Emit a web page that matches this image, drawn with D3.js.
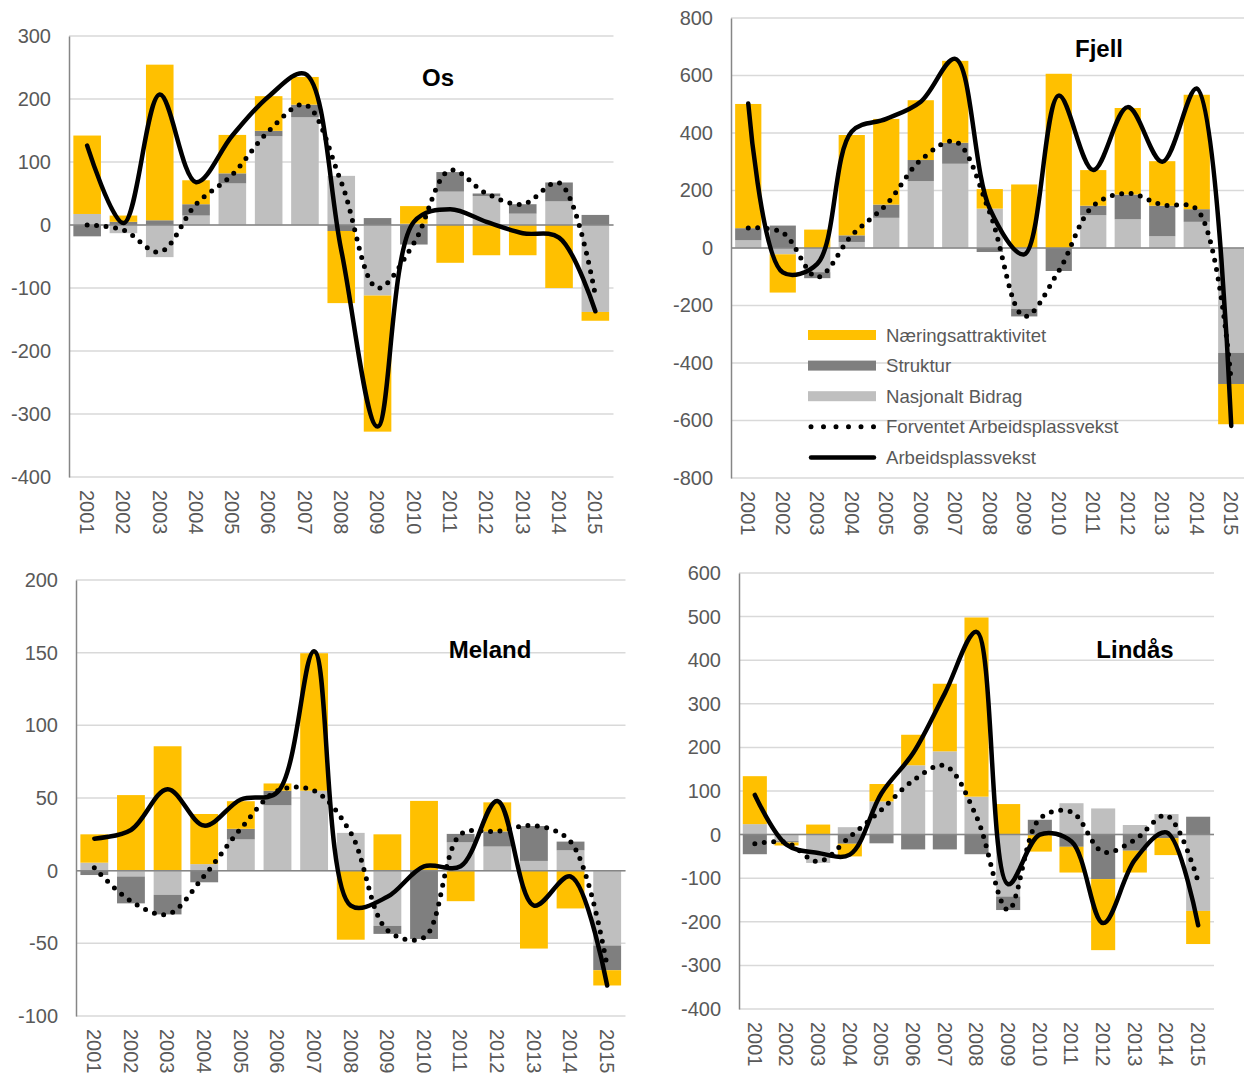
<!DOCTYPE html>
<html lang="no">
<head>
<meta charset="UTF-8">
<title>Arbeidsplassvekst</title>
<script src="https://cdn.jsdelivr.net/npm/d3@7"></script>
<style>
  body { margin: 0; background: #fff; }
  svg text { font-family: "Liberation Sans", Arial, sans-serif; }
</style>
</head>
<body>
<script>
const years = ["2001", "2002", "2003", "2004", "2005", "2006", "2007", "2008",
               "2009", "2010", "2011", "2012", "2013", "2014", "2015"];

// Os
const osNasjonalt = [17.5, -13, -51, 15, 66, 141, 171, 78, -112, 2, 53, 46, 18, 37.5, -138];
const osStruktur  = [-18, 5, 7.5, 18, 16, 8.5, 20, -9.5, 11, -31, 31, 4, 15, 30, 16];
const osNaering   = [124.5, 10, 247, 38, 61, 55, 44, -114.5, -216, 28, -60, -48, -48, -100, -14];
const osForventet = [0, -8, -43, 33, 80, 149, 191, 68, -100, -29, 87, 50, 33, 67, -112];
const osVekst     = [126, 3, 207, 68, 142, 204, 240, -40, -320, 5, 25, 5, -13, -20, -137];

// Fjell
const fjellNasjonalt = [27, -22, -84, 21, 105, 233, 293, 137, -212, 0, 114, 100, 41, 91, -365];
const fjellStruktur  = [42, 78, -21, 23, 46, 73, 73, -14, -26, -80, 33, 86, 106, 44, -108];
const fjellNaering   = [432, -133, 64, 349, 298, 208, 285, 68, 221, 606, 124, 301, 155, 398, -140];
const fjellForventet = [70, 53, -101, 44, 151, 306, 370, 123, -238, -80, 147, 190, 150, 135, -467];
const fjellVekst     = [503, -85, -55, 405, 449, 509, 658, 137, -22, 530, 271, 490, 300, 555, -619];

// Meland
const melandNasjonalt = [5.5, -4, -16.6, 4.5, 21.5, 45, 55, 26, -38, 0, 19.5, 16.6, 6.7, 14, -51.5];
const melandStruktur  = [-3, -18.5, -13.5, -8, 7.3, 10, 0, 0, -5.5, -47, 5.8, 10.4, 24, 6, -17];
const melandNaering   = [19.5, 52, 85.6, 34.5, 19, 5, 94.6, -47.5, 25, 48, -21, 20, -53.6, -26, -10.5];
const melandForventet = [2, -21, -30, -3.5, 29, 55, 55, 26, -41, -46, 25, 27, 31, 20, -66];
const melandVekst     = [22, 28, 56, 31, 49, 54, 151, -24, -18, 3, 3, 48, -24, -4, -79];

// Lindås
const lindasNasjonalt = [24, -15, -65, 17, 76, 159, 191, 87, -142, 0, 72, 60, 22, 47, -175];
const lindasStruktur  = [-45, -3, 0, -21, -20, -34, -34, -45, -31, 34, -28, -102, -37, -8, 41];
const lindasNaering   = [110, -7, 23, -29, 40, 70, 155, 411, 70, -39, -59, -163, -50, -39, -76];
const lindasForventet = [-21, -18, -62, -5, 57, 124, 158, 41, -173, 37, 52, -40, -12, 44, -108];
const lindasVekst     = [91, -23, -42, -46, 95, 187, 324, 465, -114, 0, -16, -203, -58, 5, -208];

const legendLabels = ["Næringsattraktivitet", "Struktur", "Nasjonalt Bidrag",
                      "Forventet Arbeidsplassvekst", "Arbeidsplassvekst"];

// stacking order as in the source chart: Nasjonalt at the bottom, Næring on top
const keys = ["nas", "str", "nae"];
const colors = { nae: "#FFC000", str: "#7F7F7F", nas: "#BFBFBF" };
const textGrey = "#595959";

const panels = [
  { title: "Os", nas: osNasjonalt, str: osStruktur, nae: osNaering, forv: osForventet, vekst: osVekst,
    domain: [-400, 300], step: 100, x0: 69, x1: 613.5, top: 36, bottom: 477, tx: 438, ty: 86 },
  { title: "Fjell", nas: fjellNasjonalt, str: fjellStruktur, nae: fjellNaering, forv: fjellForventet, vekst: fjellVekst,
    domain: [-800, 800], step: 200, x0: 731, x1: 1248.5, top: 18, bottom: 478, tx: 1099, ty: 57 },
  { title: "Meland", nas: melandNasjonalt, str: melandStruktur, nae: melandNaering, forv: melandForventet, vekst: melandVekst,
    domain: [-100, 200], step: 50, x0: 76, x1: 625.5, top: 580, bottom: 1016, tx: 490, ty: 658 },
  { title: "Lindås", nas: lindasNasjonalt, str: lindasStruktur, nae: lindasNaering, forv: lindasForventet, vekst: lindasVekst,
    domain: [-400, 600], step: 100, x0: 739, x1: 1214, top: 573, bottom: 1009, tx: 1135, ty: 658 }
];

const svg = d3.select("body").append("svg")
    .attr("width", 1244)
    .attr("height", 1076);

panels.forEach(function (p) {
  const g = svg.append("g");

  const x = d3.scaleBand().domain(years).range([p.x0, p.x1])
      .paddingInner(0.24).paddingOuter(0.12);
  const y = d3.scaleLinear().domain(p.domain).range([p.bottom, p.top]);
  const ticks = d3.range(p.domain[0], p.domain[1] + p.step / 2, p.step);
  const cx = function (d, i) { return x(years[i]) + x.bandwidth() / 2; };

  // gridlines
  g.selectAll(".grid").data(ticks).enter().append("line")
      .attr("x1", p.x0).attr("x2", p.x1)
      .attr("y1", d => y(d)).attr("y2", d => y(d))
      .attr("stroke", "#D9D9D9")
      .attr("stroke-width", 1.5);

  // stacked bars
  const rows = years.map((yr, i) => ({ year: yr, nas: p.nas[i], str: p.str[i], nae: p.nae[i] }));
  const stacked = d3.stack().keys(keys).offset(d3.stackOffsetDiverging)(rows);

  g.selectAll(".serie").data(stacked).enter().append("g")
      .attr("fill", d => colors[d.key])
      .selectAll("rect").data(d => d).enter().append("rect")
      .attr("x", d => x(d.data.year))
      .attr("width", x.bandwidth())
      .attr("y", d => y(Math.max(d[0], d[1])))
      .attr("height", d => Math.abs(y(d[0]) - y(d[1])));

  // zero line
  g.append("line")
      .attr("x1", p.x0).attr("x2", p.x1)
      .attr("y1", y(0)).attr("y2", y(0))
      .attr("stroke", "#868686")
      .attr("stroke-width", 1.5);

  // y axis, plain hyphen for negatives like the original
  const yAxis = g.append("g")
      .attr("transform", "translate(" + p.x0 + ",0)")
      .call(d3.axisLeft(y).tickValues(ticks).tickSize(0).tickPadding(18).tickFormat(d => String(d)));
  yAxis.select(".domain").attr("stroke", "#868686").attr("stroke-width", 1.5);
  yAxis.selectAll("text")
      .attr("fill", textGrey)
      .style("font-size", "20px")
      .style("font-family", "'Liberation Sans', Arial, sans-serif");

  // x axis labels (rotated)
  const xAxis = g.append("g")
      .attr("transform", "translate(0," + p.bottom + ")")
      .call(d3.axisBottom(x).tickSize(0).tickPadding(0));
  xAxis.select(".domain").remove();
  xAxis.selectAll("text")
      .attr("y", 0)
      .attr("x", 13)
      .attr("dy", "0.36em")
      .attr("transform", "rotate(90)")
      .style("text-anchor", "start")
      .attr("fill", textGrey)
      .style("font-size", "20px")
      .style("font-family", "'Liberation Sans', Arial, sans-serif");

  // lines
  const line = d3.line()
      .x(cx)
      .y(d => y(d))
      .curve(d3.curveCatmullRom.alpha(0.5));

  g.append("path")
      .datum(p.forv)
      .attr("d", line)
      .attr("fill", "none")
      .attr("stroke", "#000")
      .attr("stroke-width", 5)
      .attr("stroke-linecap", "round")
      .attr("stroke-dasharray", "0 9.5");

  g.append("path")
      .datum(p.vekst)
      .attr("d", line)
      .attr("fill", "none")
      .attr("stroke", "#000")
      .attr("stroke-width", 4.5)
      .attr("stroke-linecap", "round")
      .attr("stroke-linejoin", "round");

  // title
  g.append("text")
      .attr("x", p.tx)
      .attr("y", p.ty)
      .attr("text-anchor", "middle")
      .attr("font-weight", "bold")
      .attr("font-size", 24)
      .attr("fill", "#000")
      .text(p.title);
});

// legend (inside the Fjell panel)
const legend = svg.append("g").attr("transform", "translate(808,335)");
const legendRows = legend.selectAll("g").data(legendLabels).enter().append("g")
    .attr("transform", (d, i) => "translate(0," + (i * 30.6) + ")");

legendRows.each(function (d, i) {
  const row = d3.select(this);
  if (i < 3) {
    row.append("rect")
        .attr("x", 0).attr("y", -5)
        .attr("width", 68).attr("height", 10)
        .attr("fill", colors[["nae", "str", "nas"][i]]);
  } else {
    row.append("line")
        .attr("x1", 3).attr("x2", 66)
        .attr("y1", 0).attr("y2", 0)
        .attr("stroke", "#000")
        .attr("stroke-width", i === 3 ? 5 : 4.5)
        .attr("stroke-linecap", "round")
        .attr("stroke-dasharray", i === 3 ? "0 12.5" : null);
  }
  row.append("text")
      .attr("x", 78)
      .attr("y", 0)
      .attr("dy", "0.35em")
      .attr("fill", textGrey)
      .attr("font-size", 18.6)
      .text(d);
});
</script>
</body>
</html>
